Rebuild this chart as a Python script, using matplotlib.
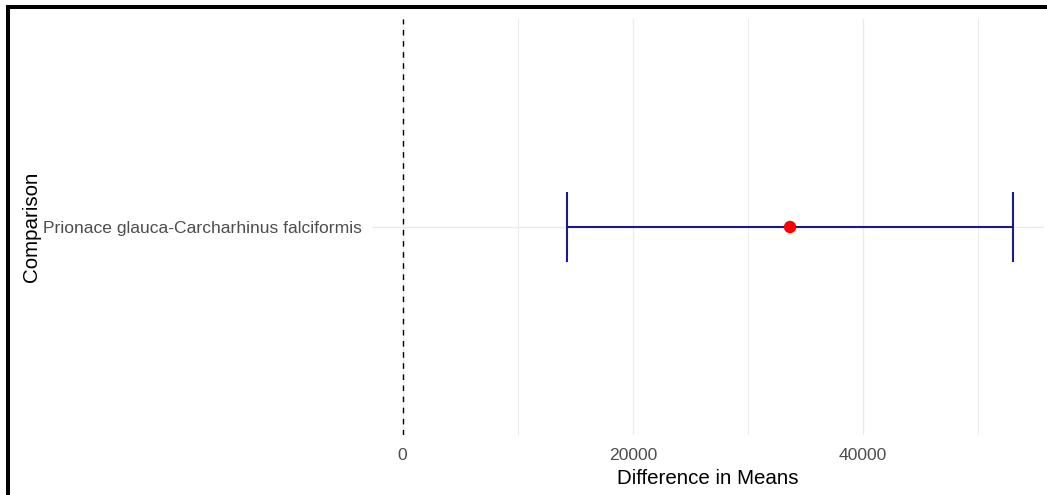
import matplotlib
matplotlib.use("Agg")
import matplotlib.pyplot as plt
from matplotlib.lines import Line2D
from matplotlib.ticker import MultipleLocator

# Tukey-style comparison: difference in means with confidence interval
comparisons = ["Prionace glauca-Carcharhinus falciformis"]
diff = [33650]
lower = [14310]
upper = [53050]

plt.rcParams["font.family"] = ["Liberation Sans", "DejaVu Sans"]

W, H, DPI = 1047, 495, 100
fig = plt.figure(figsize=(W / DPI, H / DPI), dpi=DPI)
fig.patch.set_facecolor("white")

left_px, right_px, top_px, bottom_px = 372, 1044, 19, 435
ax = fig.add_axes([left_px / W, 1 - bottom_px / H,
                   (right_px - left_px) / W, (bottom_px - top_px) / H])

ypos = list(range(len(comparisons)))

# axis limits with 5% padding on x (zero line included) and 0.6 on the category axis
lo = min(0, min(lower))
hi = max(upper)
pad = 0.05 * (hi - lo)
ax.set_xlim(lo - pad, hi + pad)
ax.set_ylim(-0.6, len(comparisons) - 0.4)

# grid
ax.xaxis.set_major_locator(MultipleLocator(20000))
ax.xaxis.set_minor_locator(MultipleLocator(10000))
ax.grid(True, which="major", axis="both", color="#EBEBEB", linewidth=1.0, zorder=0)
ax.grid(True, which="minor", axis="x", color="#EBEBEB", linewidth=0.7, zorder=0)

# zero reference line
ax.axvline(0, color="black", linestyle=(0, (4, 4)), linewidth=1.0, zorder=2)

# confidence interval bars with caps
cap = 0.1
ax.hlines(ypos, lower, upper, color="#1A1A8C", linewidth=1.5, zorder=3)
for y, l, u in zip(ypos, lower, upper):
    ax.vlines([l, u], y - cap, y + cap, color="#1A1A8C", linewidth=1.5, zorder=3)

# mean difference
ax.scatter(diff, ypos, s=80, color="red", edgecolors="none", zorder=4)

ax.set_yticks(ypos)
ax.set_yticklabels(comparisons)
ax.set_xticks([0, 20000, 40000])
ax.set_xticklabels(["0", "20000", "40000"])

for s in ax.spines.values():
    s.set_visible(False)
ax.tick_params(axis="both", which="both", length=0)
ax.tick_params(axis="y", pad=7.2, labelsize=12.6, labelcolor="#4D4D4D")
ax.tick_params(axis="x", pad=9.5, labelsize=12.6, labelcolor="#4D4D4D")

ax.set_xlabel("Difference in Means", fontsize=14.8, color="black", labelpad=4.5)
ax.set_ylabel("Comparison", fontsize=14.8, color="black")
ax.yaxis.set_label_coords((32 - left_px) / (right_px - left_px), 0.5)
ax.yaxis.label.set_va("center")

# black frame on the top and left edges
fig.add_artist(Line2D([6.5 / W, 1.0], [1 - 7 / H, 1 - 7 / H],
                      transform=fig.transFigure, color="black", linewidth=2.9,
                      solid_capstyle="butt"))
fig.add_artist(Line2D([8 / W, 8 / W], [0.0, 1 - 5 / H],
                      transform=fig.transFigure, color="black", linewidth=2.9,
                      solid_capstyle="butt"))

fig.savefig("out.png", dpi=DPI, facecolor="white")
